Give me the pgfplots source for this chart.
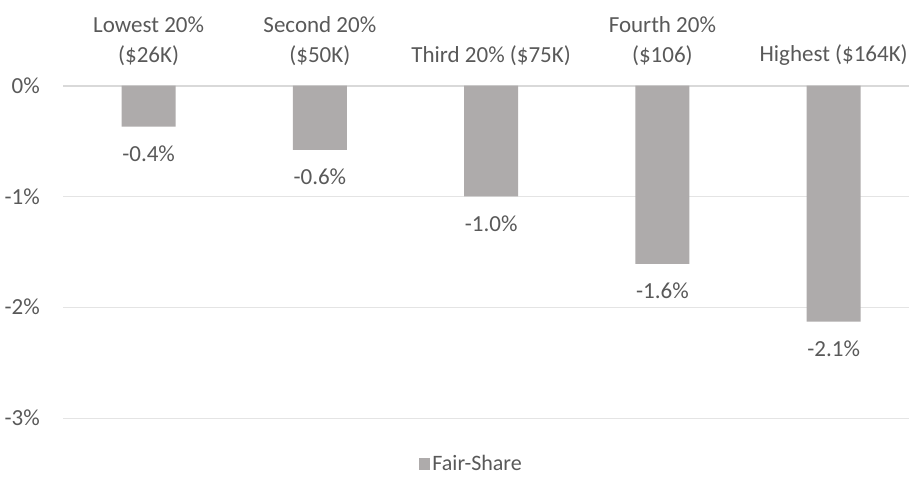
\documentclass[border=0pt]{standalone}
\usepackage{fontspec}
\setmainfont{Carlito}
\usepackage{pgfplots}
\pgfplotsset{compat=1.18}
\definecolor{barc}{HTML}{AEABAB}
\definecolor{txt}{HTML}{595959}
\definecolor{gridc}{HTML}{E4E4E4}
\definecolor{zeroc}{HTML}{D9D9D9}
\begin{document}
\begin{tikzpicture}
\useasboundingbox (0,0) rectangle (909pt,477pt);
\begin{axis}[
  at={(63pt,59pt)}, anchor=south west,
  scale only axis, width=846pt, height=332.5pt,
  xmin=-0.5, xmax=4.44, ymin=-3, ymax=0,
  axis line style={draw=none},
  tick style={draw=none},
  /pgf/number format/assume math mode=true,
  xtick={0,1,2,3,4},
  xticklabels={{Lowest 20\%\\(\$26K)},{Second 20\%\\(\$50K)},{Third 20\% (\$75K)},{Fourth 20\%\\(\$106)},{Highest (\$164K)}},
  xticklabel pos=upper,
  xticklabel style={align=center, anchor=south, inner sep=0pt, yshift=20pt, font=\fontsize{23}{30}\selectfont, text=txt},
  ytick={-3,-2,-1},
  ymajorgrids, grid style={gridc, line width=1pt},
  extra y ticks={0}, extra y tick style={grid style={zeroc, line width=2pt}},
  yticklabel={\pgfmathprintnumber{\tick}\%},
  yticklabel style={anchor=east, inner sep=0pt, xshift=-23pt, font=\fontsize{23}{28}\selectfont, text=txt},
  legend style={at={(axis description cs:0.483,-0.138)}, anchor=center, draw=none, font=\fontsize{22}{26}\selectfont, text=txt, inner sep=1pt},
  legend image code/.code={\fill[barc] (0pt,-6pt) rectangle (11pt,6pt);},
]
\addplot[ybar, fill=barc, draw=none, bar width=0.315, bar shift=0,
  nodes near coords={\pgfmathprintnumber[fixed,fixed zerofill,precision=1]{\pgfplotspointmeta}\%},
  every node near coord/.append style={anchor=center, yshift=-27pt, font=\fontsize{23}{28}\selectfont, text=txt}]
  coordinates {(0,-0.37) (1,-0.58) (2,-1.00) (3,-1.61) (4,-2.13)};
\addlegendentry{Fair-Share}
\end{axis}
\end{tikzpicture}
\end{document}
